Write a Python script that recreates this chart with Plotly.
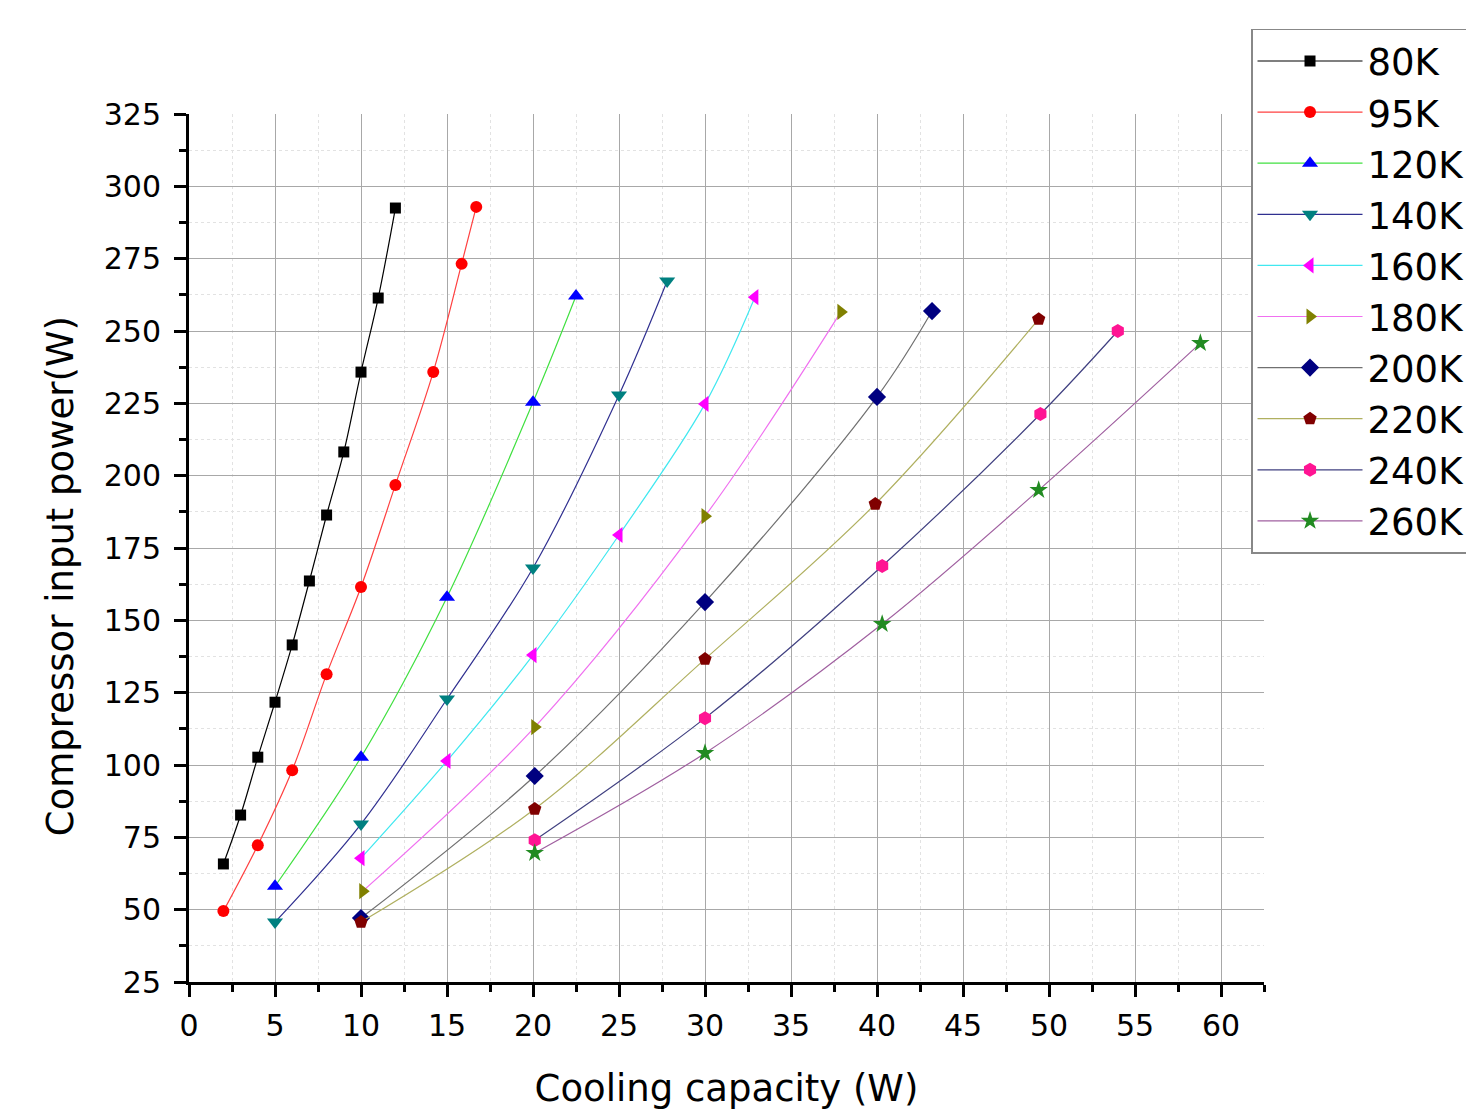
import plotly.graph_objects as go

names = ["80K", "95K", "120K", "140K", "160K", "180K", "200K", "220K", "240K", "260K"]

x80 = [2, 3, 4, 5, 6, 7, 8, 9, 10, 11, 12]
y80 = [65.8, 82.7, 102.7, 121.7, 141.5, 163.6, 186.4, 208.2, 235.8, 261.4, 292.5]
x95 = [2, 4, 6, 8, 10, 12, 14.2, 15.85, 16.7]
y95 = [49.5, 72.3, 98.2, 131.4, 161.5, 196.8, 235.8, 273.2, 292.9]
x120 = [5, 10, 15, 20, 22.5]
y120 = [58.1, 102.7, 158.0, 225.4, 262.1]
x140 = [5, 10, 15, 20, 25, 27.8]
y140 = [45.7, 79.6, 122.8, 168.1, 227.9, 267.3]
x160 = [10, 15, 20, 25, 30, 32.9]
y160 = [67.8, 101.4, 138.0, 179.5, 224.8, 261.7]
x180 = [10.1, 20.1, 30.0, 37.9]
y180 = [56.4, 113.1, 186.0, 256.6]
x200 = [10, 20.1, 30, 40, 43.2]
y200 = [47.1, 96.2, 156.3, 227.2, 256.9]
x220 = [10, 20.1, 30, 39.9, 49.4]
y220 = [45.7, 84.8, 136.6, 190.2, 254.1]
x240 = [20.1, 30, 40.3, 49.5, 54.0]
y240 = [74.0, 116.2, 168.8, 221.3, 250.0]
x260 = [20.1, 30, 40.3, 49.4, 58.8]
y260 = [69.6, 104.1, 148.7, 195.0, 245.8]

xs = [x80, x95, x120, x140, x160, x180, x200, x220, x240, x260]
ys = [y80, y95, y120, y140, y160, y180, y200, y220, y240, y260]

x_title = "Cooling capacity (W)"
y_title = "Compressor input power(W)"

line_colors = ["#000000", "#ff4040", "#40e040", "#303090", "#40e8f0",
               "#f070f0", "#707070", "#b0b060", "#404080", "#a060a0"]
marker_colors = ["#000000", "#ff0000", "#0000ff", "#008080", "#ff00ff",
                 "#808000", "#000080", "#800000", "#ff1493", "#228b22"]
symbols = ["square", "circle", "triangle-up", "triangle-down", "triangle-left",
           "triangle-right", "diamond", "pentagon", "hexagon", "star"]
sizes = [11, 12, 14, 14, 14, 14, 14, 14, 14, 14]

fig = go.Figure()
for i in range(len(names)):
    fig.add_trace(go.Scatter(
        x=xs[i], y=ys[i], name=names[i], mode="lines+markers",
        line=dict(color=line_colors[i], width=1.2, shape="spline"),
        marker=dict(symbol=symbols[i], color=marker_colors[i], size=sizes[i],
                    line=dict(width=0)),
    ))

FONT = "DejaVu Sans, Liberation Sans, Arial, sans-serif"

fig.update_layout(
    width=1474, height=1120,
    margin=dict(l=181, r=217, t=106, b=146),
    plot_bgcolor="white", paper_bgcolor="white",
    font=dict(family=FONT, color="black"),
    legend=dict(
        x=0.987, y=1.098, xanchor="left", yanchor="top",
        bordercolor="#888888", borderwidth=1.5, bgcolor="white",
        font=dict(size=37), tracegroupgap=0, itemwidth=105,
    ),
    annotations=[
        dict(text=y_title, xref="paper", yref="paper", x=-0.1199, y=0.4677,
             xanchor="center", yanchor="middle", textangle=-90, showarrow=False,
             font=dict(size=37)),
    ],
)
fig.update_xaxes(
    range=[0, 62.5], tickmode="linear", tick0=0, dtick=5,
    showline=True, linecolor="black", linewidth=3,
    ticks="outside", ticklen=12, tickwidth=3, tickcolor="black",
    tickfont=dict(size=30), ticklabelstandoff=3,
    showgrid=True, gridcolor="#a8a8a8", gridwidth=1,
    zeroline=False,
    minor=dict(dtick=2.5, ticks="outside", ticklen=7, tickwidth=3, tickcolor="black",
               showgrid=True, gridcolor="#e2e2e2", griddash="dot", gridwidth=1),
    title=dict(text=x_title, font=dict(size=37), standoff=34),
)
fig.update_yaxes(
    range=[25, 325], tickmode="linear", tick0=25, dtick=25,
    showline=True, linecolor="black", linewidth=3,
    ticks="outside", ticklen=12, tickwidth=3, tickcolor="black",
    tickfont=dict(size=30), ticklabelstandoff=7,
    showgrid=True, gridcolor="#a8a8a8", gridwidth=1,
    zeroline=False,
    minor=dict(dtick=12.5, ticks="outside", ticklen=7, tickwidth=3, tickcolor="black",
               showgrid=True, gridcolor="#e2e2e2", griddash="dot", gridwidth=1),
)

fig.write_html("out.html")
